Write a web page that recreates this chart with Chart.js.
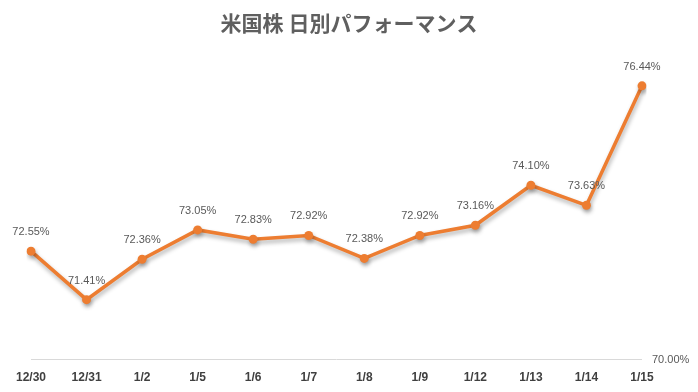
<!DOCTYPE html>
<html>
<head>
<meta charset="utf-8">
<script src="https://cdn.jsdelivr.net/npm/chart.js@4/dist/chart.umd.min.js"></script>
<style>
  html, body { margin: 0; padding: 0; background: #fff; }
  #wrap { width: 698px; height: 392px; }
</style>
</head>
<body>
<div id="wrap"><canvas id="chart"></canvas></div>
<script>
// データ
const chartTitle = "米国株 日別パフォーマンス";
const days = ["12/30", "12/31", "1/2", "1/5", "1/6", "1/7", "1/8", "1/9", "1/12", "1/13", "1/14", "1/15"];
const performance = [72.55, 71.41, 72.36, 73.05, 72.83, 72.92, 72.38, 72.92, 73.16, 74.10, 73.63, 76.44];
const yMin = 70;
const yMax = 77;

// 影付きの線
const shadowPlugin = {
    id: "shadow",
    beforeDatasetsDraw(chart) {
        const ctx = chart.ctx;
        ctx.save();
        ctx.shadowColor = "rgba(0,0,0,0.3)";
        ctx.shadowBlur = 4;
        ctx.shadowOffsetX = 1;
        ctx.shadowOffsetY = 3;
    },
    afterDatasetsDraw(chart) {
        chart.ctx.restore();
    }
};

// データラベルとタイトル
const labelPlugin = {
    id: "labels",
    afterDraw(chart) {
        const ctx = chart.ctx;
        const meta = chart.getDatasetMeta(0);
        ctx.save();
        ctx.font = '11px "Liberation Sans", sans-serif';
        ctx.fillStyle = "#595959";
        ctx.textAlign = "center";
        ctx.textBaseline = "middle";
        meta.data.forEach((pt, i) => {
            ctx.fillText(performance[i].toFixed(2) + "%", pt.x, pt.y - 19);
        });

        ctx.font = 'bold 21px "Noto Sans CJK JP", sans-serif';
        ctx.fillStyle = "#5f5f5f";
        ctx.fillText(chartTitle, 349, 23);
        ctx.restore();
    }
};

new Chart(document.getElementById("chart"), {
    type: "line",
    data: {
        labels: days,
        datasets: [{
            data: performance,
            borderColor: "#ED7D31",
            backgroundColor: "#ED7D31",
            borderWidth: 3.5,
            pointRadius: 4.5,
            pointHoverRadius: 4.5,
            pointBorderWidth: 0,
            pointBackgroundColor: "#ED7D31",
            tension: 0
        }]
    },
    options: {
        responsive: true,
        maintainAspectRatio: false,
        animation: false,
        layout: { padding: { top: 62, left: 31, right: 0, bottom: 4 } },
        plugins: {
            legend: { display: false },
            title: { display: false },
            tooltip: { enabled: false }
        },
        scales: {
            x: {
                offset: false,
                grid: { display: false },
                border: { display: false },
                ticks: {
                    padding: 3,
                    maxRotation: 0,
                    autoSkip: false,
                    color: "#404040",
                    font: { family: "Liberation Sans", size: 12, weight: "bold" }
                }
            },
            y: {
                position: "right",
                min: yMin,
                max: yMax,
                border: { display: false },
                grid: {
                    drawTicks: false,
                    color: (c) => (c.tick && c.tick.value === yMin ? "#d9d9d9" : "rgba(0,0,0,0)")
                },
                afterFit(scale) { scale.width = 56; },
                ticks: {
                    stepSize: 1,
                    padding: 10,
                    color: "#595959",
                    font: { family: "Liberation Sans", size: 11 },
                    callback: (v) => (v === yMin ? v.toFixed(2) + "%" : "")
                }
            }
        }
    },
    plugins: [shadowPlugin, labelPlugin]
});
</script>
</body>
</html>
